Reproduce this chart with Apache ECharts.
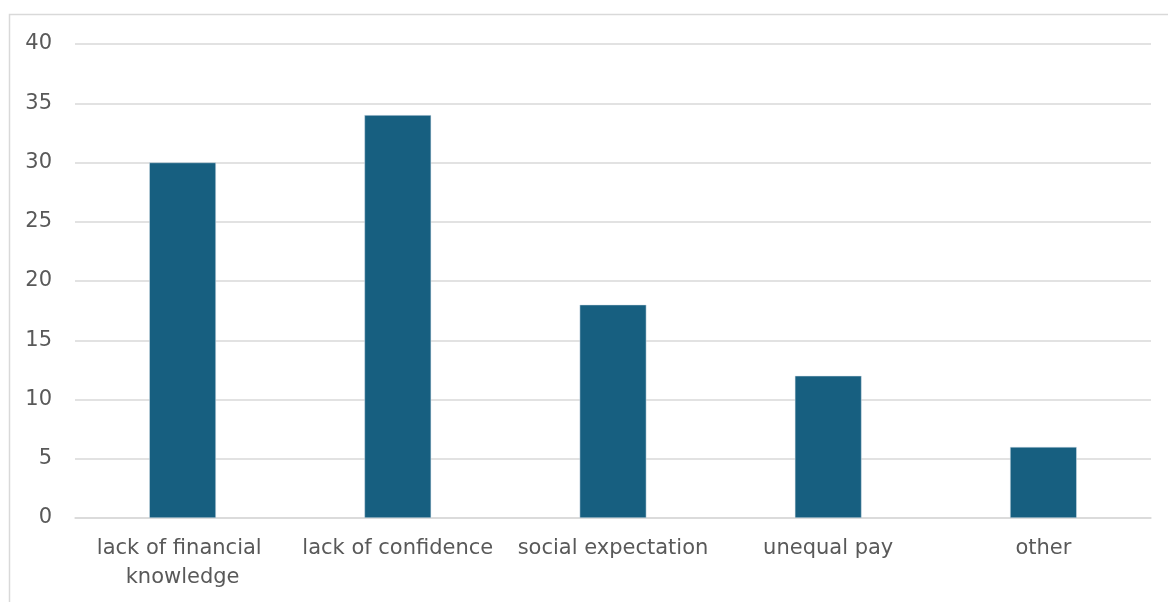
<!DOCTYPE html>
<html>
<head>
<meta charset="utf-8">
<script src="https://cdn.jsdelivr.net/npm/echarts@6/dist/echarts.min.js"></script>
<style>
  html, body { margin: 0; padding: 0; background: #fff; }
  #chart { width: 1168px; height: 602px; }
</style>
</head>
<body>
<div id="chart"></div>
<script>
const categories = ['lack of financial knowledge', 'lack of confidence', 'social expectation', 'unequal pay', 'other'];
const values = [30, 34, 18, 12, 6];
const yTicks = { min: 0, max: 40, interval: 5 };

const chart = echarts.init(document.getElementById('chart'), null, { renderer: 'canvas' });
const textColor = '#595959';
const fontFamily = '"DejaVu Sans", sans-serif';

chart.setOption({
  animation: false,
  backgroundColor: '#ffffff',
  graphic: [{
    type: 'rect',
    shape: { x: 9.5, y: 14.5, width: 1200, height: 700 },
    style: { fill: 'none', stroke: '#d9d9d9', lineWidth: 1.5 },
    silent: true
  }],
  grid: { left: 75, right: 17, top: 44, bottom: 84, containLabel: false },
  xAxis: {
    type: 'category',
    data: categories,
    axisLine: { show: true, lineStyle: { color: '#d9d9d9', width: 1.5 } },
    axisTick: { show: false },
    axisLabel: {
      color: textColor,
      fontFamily: fontFamily,
      fontSize: 21,
      margin: 16,
      width: 205,
      overflow: 'break',
      lineHeight: 29,
      interval: 0
    }
  },
  yAxis: {
    type: 'value',
    min: yTicks.min,
    max: yTicks.max,
    interval: yTicks.interval,
    axisLine: { show: false },
    axisTick: { show: false },
    splitLine: { lineStyle: { color: '#d9d9d9', width: 1.5 } },
    axisLabel: {
      color: textColor,
      fontFamily: fontFamily,
      fontSize: 21,
      margin: 23
    }
  },
  series: [{
    type: 'bar',
    data: values,
    barWidth: '31%',
    itemStyle: { color: '#175F80', borderColor: '#d9e3ea', borderWidth: 0.5 }
  }]
});
</script>
</body>
</html>
